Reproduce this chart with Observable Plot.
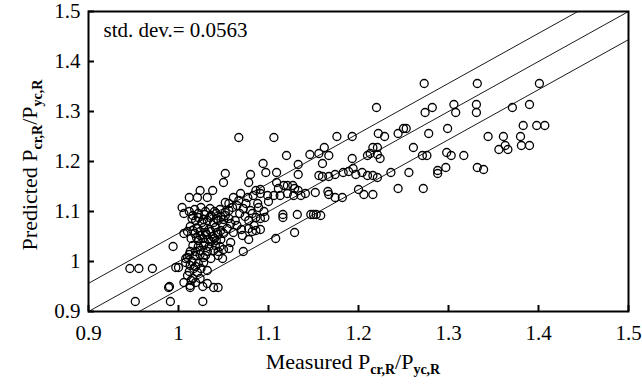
<!DOCTYPE html>
<html>
<head>
<meta charset="utf-8">
<script src="https://cdn.jsdelivr.net/npm/d3@7"></script>
<script src="https://cdn.jsdelivr.net/npm/@observablehq/plot@0.6"></script>
<style>
  html, body { margin: 0; padding: 0; background: #fff; }
  #chart { width: 642px; height: 384px; }
  #chart svg text { font-family: "Liberation Serif", "Times New Roman", serif; }
</style>
</head>
<body>
<div id="chart"></div>
<script>
// Measured P_cr,R/P_yc,R
const measured = [
  0.946, 0.956, 0.971, 0.952, 0.990, 0.989, 0.991, 0.997, 1.000, 0.994,
  1.006, 1.006, 1.004, 1.012, 1.006, 1.013, 1.014, 1.027, 1.027, 1.039,
  1.044, 1.032, 1.072, 1.078, 1.082, 1.108, 1.129, 1.116, 1.116, 1.132,
  1.147, 1.150, 1.153, 1.158,
  1.220, 1.176, 1.193, 1.162, 1.146, 1.156, 1.160, 1.167, 1.133, 1.133,
  1.193, 1.222, 1.221, 1.210, 1.213, 1.216, 1.224, 1.229,
  1.156, 1.160, 1.167, 1.174, 1.183, 1.189, 1.194, 1.197, 1.204, 1.210,
  1.216, 1.221, 1.136, 1.133, 1.152, 1.166, 1.167, 1.174, 1.182, 1.200,
  1.206, 1.216, 1.221,
  1.273, 1.274, 1.282, 1.306, 1.308, 1.299, 1.278, 1.244, 1.250, 1.253,
  1.261, 1.271, 1.276, 1.298, 1.303, 1.317, 1.288, 1.288, 1.297, 1.256,
  1.236, 1.244, 1.272, 1.332, 1.401, 1.331, 1.331, 1.371, 1.390, 1.383,
  1.398, 1.407, 1.344, 1.361, 1.363, 1.356, 1.366, 1.380, 1.381, 1.390,
  1.332, 1.339,
  1.067, 1.106, 1.120, 1.094, 1.097, 1.109, 1.080, 1.078, 1.050, 1.052,
  1.109, 1.117, 1.121, 1.127, 1.129,
  1.061, 1.069, 1.077, 1.083, 1.091, 1.099, 1.106, 1.113, 1.121, 1.128,
  1.141, 1.024, 1.038, 1.021, 1.032,
  1.091, 1.086, 1.111, 1.067, 1.052, 1.056, 1.060, 1.088, 1.089, 1.080,
  1.082, 1.086, 1.091, 1.078, 1.056, 1.052, 1.058, 1.063, 1.054, 1.061,
  1.078, 1.086, 1.091, 1.071, 1.058, 1.056, 1.056,
  1.016, 1.022, 1.029, 1.036, 1.042, 1.047, 1.019, 1.026, 1.032, 1.039,
  1.044, 1.049, 1.013, 1.021, 1.028, 1.034, 1.041, 1.047, 1.018, 1.024,
  1.031, 1.038, 1.044, 1.022, 1.029, 1.036, 1.042,
  1.013, 1.019, 1.024, 1.032, 1.039, 1.044, 1.050, 1.010, 1.008, 1.028,
  1.036, 1.049, 1.013, 1.017, 1.021, 1.010, 1.016, 1.019, 1.024, 1.032,
  1.013,
  1.012, 1.018, 1.025, 1.030, 1.035, 1.040, 1.046, 1.052,
  1.015, 1.022, 1.028, 1.035, 1.042, 1.050,
  1.010, 1.016, 1.024, 1.030, 1.036, 1.043, 1.050,
  1.014, 1.020, 1.027, 1.033, 1.040, 1.047,
  1.016, 1.022, 1.028, 1.034, 1.041, 1.046,
  1.012, 1.018, 1.024, 1.030, 1.044,
  1.008, 1.015, 1.022, 1.028, 1.019, 1.025, 1.012,
  1.065, 1.072, 1.075, 1.068, 1.074, 1.065, 1.070, 1.084, 1.095, 1.100, 1.096
];
// Predicted P_cr,R/P_yc,R
const predicted = [
  0.986, 0.986, 0.986, 0.920, 0.950, 0.948, 0.920, 0.988, 0.988, 1.030,
  1.056, 1.096, 1.108, 1.128, 0.958, 0.948, 0.962, 0.920, 0.950, 0.948,
  0.948, 0.982, 1.020, 1.044, 1.060, 1.046, 1.058, 1.094, 1.088, 1.094,
  1.094, 1.094, 1.094, 1.092,
  1.308, 1.250, 1.250, 1.228, 1.214, 1.216, 1.196, 1.212, 1.194, 1.174,
  1.206, 1.256, 1.228, 1.212, 1.216, 1.228, 1.206, 1.250,
  1.172, 1.170, 1.170, 1.174, 1.178, 1.180, 1.186, 1.174, 1.178, 1.172,
  1.172, 1.168, 1.132, 1.142, 1.138, 1.140, 1.134, 1.128, 1.128, 1.144,
  1.134, 1.134, 1.214,
  1.356, 1.298, 1.308, 1.314, 1.298, 1.266, 1.256, 1.256, 1.266, 1.266,
  1.228, 1.212, 1.212, 1.218, 1.212, 1.212, 1.182, 1.176, 1.188, 1.178,
  1.178, 1.146, 1.146, 1.356, 1.356, 1.314, 1.298, 1.308, 1.314, 1.272,
  1.272, 1.272, 1.250, 1.250, 1.232, 1.224, 1.224, 1.250, 1.232, 1.232,
  1.188, 1.184,
  1.248, 1.248, 1.212, 1.196, 1.178, 1.178, 1.174, 1.158, 1.158, 1.176,
  1.158, 1.152, 1.152, 1.152, 1.146,
  1.128, 1.136, 1.128, 1.132, 1.136, 1.132, 1.132, 1.132, 1.136, 1.132,
  1.136, 1.142, 1.142, 1.128, 1.128,
  1.144, 1.142, 1.146, 1.122, 1.118, 1.116, 1.108, 1.116, 1.108, 1.102,
  1.096, 1.088, 1.086, 1.082, 1.086, 1.092, 1.076, 1.082, 1.066, 1.058,
  1.066, 1.062, 1.064, 1.052, 1.038, 1.026, 1.102,
  1.092, 1.096, 1.094, 1.092, 1.096, 1.090, 1.082, 1.078, 1.082, 1.078,
  1.082, 1.074, 1.070, 1.066, 1.068, 1.064, 1.068, 1.062, 1.056, 1.052,
  1.054, 1.050, 1.054, 1.042, 1.038, 1.040, 1.042,
  1.020, 1.020, 1.022, 1.020, 1.022, 1.020, 1.024, 1.008, 1.006, 1.008,
  1.006, 1.006, 0.992, 0.986, 0.978, 0.972, 0.966, 0.958, 0.966, 0.956,
  0.952,
  1.100, 1.104, 1.108, 1.100, 1.106, 1.100, 1.104, 1.098,
  1.086, 1.088, 1.084, 1.088, 1.086, 1.084,
  1.060, 1.062, 1.060, 1.058, 1.060, 1.058, 1.056,
  1.046, 1.048, 1.046, 1.044, 1.046, 1.044,
  1.032, 1.030, 1.032, 1.030, 1.032, 1.030,
  1.014, 1.012, 1.014, 1.012, 1.012,
  0.998, 1.000, 0.996, 0.998, 0.990, 0.986, 0.980,
  1.112, 1.106, 1.116, 1.096, 1.090, 1.072, 1.064, 1.072, 1.100, 1.120, 1.088
];
const xTicks = [0.9, 1, 1.1, 1.2, 1.3, 1.4, 1.5];
const yTicks = [0.9, 1, 1.1, 1.2, 1.3, 1.4, 1.5];
const stdDev = 0.0563;
const bandOffsets = [-stdDev, 0, stdDev];
const lineEnds = [0.9, 1.5];

const serif = "'Liberation Serif', 'Times New Roman', serif";
const points = measured.map((m, i) => ({x: m, y: predicted[i]}));
const bandLines = bandOffsets.flatMap((o, k) => lineEnds.map(e => ({k, x: e, y: e + o})));

const svg = Plot.plot({
  width: 642,
  height: 384,
  marginLeft: 88,
  marginRight: 14,
  marginTop: 11,
  marginBottom: 73,
  style: {fontFamily: serif, fontSize: "21px", background: "#fff", color: "#000"},
  x: {domain: [0.9, 1.5]},
  y: {domain: [0.9, 1.5]},
  marks: [
    Plot.line(bandLines, {x: "x", y: "y", z: "k", stroke: "#000", strokeWidth: 0.9, clip: true}),
    Plot.dot(points, {x: "x", y: "y", r: 4, stroke: "#000", strokeWidth: 1.3, fill: "none"}),
    Plot.frame({stroke: "#000", strokeWidth: 2}),
    Plot.axisX({ticks: xTicks, tickFormat: d => String(d), tickSize: -6, tickPadding: 20, strokeWidth: 2, label: null, fontSize: 21, fontFamily: serif, fill: "#000"}),
    Plot.axisY({ticks: yTicks, tickFormat: d => String(d), tickSize: -6, tickPadding: 14, strokeWidth: 2, label: null, fontSize: 21, fontFamily: serif, fill: "#000"}),
    Plot.text(["std. dev.= " + stdDev], {frameAnchor: "top-left", dx: 15, dy: 11, fontSize: 21, fontFamily: serif, textAnchor: "start", lineAnchor: "top", fill: "#000"})
  ]
});

const s = d3.select(svg);
function addLabel(x, y, rotate, base1, sub1, base2, sub2) {
  const t = s.append("text")
    .attr("transform", `translate(${x},${y})` + (rotate ? ` rotate(${rotate})` : ""))
    .attr("text-anchor", "middle")
    .attr("font-family", serif)
    .attr("font-size", 22)
    .attr("fill", "#000");
  t.append("tspan").text(base1);
  t.append("tspan").attr("dy", 5).attr("font-size", 14).attr("font-weight", "bold").text(sub1);
  t.append("tspan").attr("dy", -5).text(base2);
  t.append("tspan").attr("dy", 5).attr("font-size", 14).attr("font-weight", "bold").text(sub2);
}
addLabel(353, 369, 0, "Measured P", "cr,R", "/P", "yc,R");
addLabel(37, 165, -90, "Predicted P", "cr,R", "/P", "yc,R");

document.getElementById("chart").appendChild(svg);
</script>
</body>
</html>
